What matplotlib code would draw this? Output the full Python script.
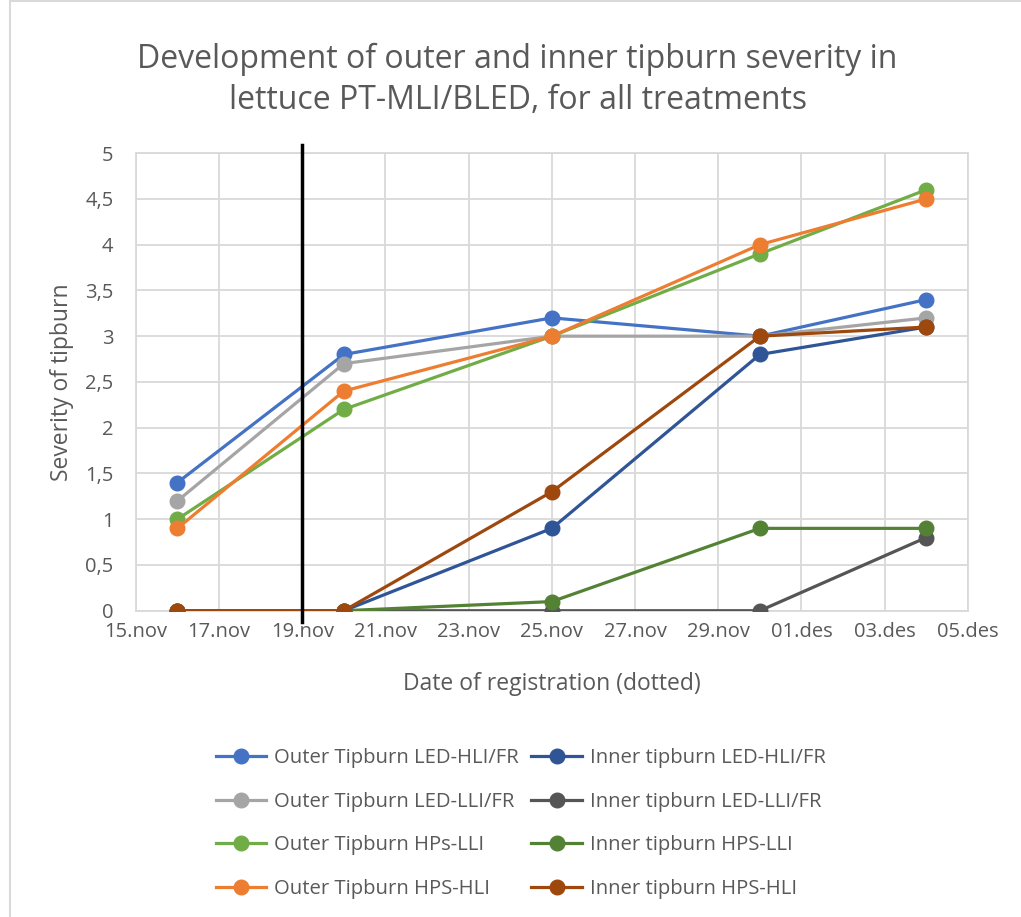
import datetime as dt
import matplotlib
matplotlib.use('Agg')
import matplotlib.pyplot as plt
import matplotlib.dates as mdates
from matplotlib.patches import Rectangle

plt.rcParams['font.family'] = ['Open Sans', 'DejaVu Sans']

# ─── Data ─────────────────────────────────────────────────────────────────────
dates = [dt.date(2023, 11, 16), dt.date(2023, 11, 20), dt.date(2023, 11, 25),
         dt.date(2023, 11, 30), dt.date(2023, 12, 4)]

outer_led_hli = [1.4, 2.8, 3.2, 3.0, 3.4]
outer_led_lli = [1.2, 2.7, 3.0, 3.0, 3.2]
outer_hps_lli = [1.0, 2.2, 3.0, 3.9, 4.6]
outer_hps_hli = [0.9, 2.4, 3.0, 4.0, 4.5]
inner_led_hli = [0, 0, 0.9, 2.8, 3.1]
inner_led_lli = [0, 0, 0, 0, 0.8]
inner_hps_lli = [0, 0, 0.1, 0.9, 0.9]
inner_hps_hli = [0, 0, 1.3, 3.0, 3.1]

series = [
    ('Outer Tipburn LED-HLI/FR', outer_led_hli, '#4472C4'),
    ('Outer Tipburn LED-LLI/FR', outer_led_lli, '#A5A5A5'),
    ('Outer Tipburn HPs-LLI',    outer_hps_lli, '#70AD47'),
    ('Outer Tipburn HPS-HLI',    outer_hps_hli, '#ED7D31'),
    ('Inner tipburn LED-HLI/FR', inner_led_hli, '#2F5597'),
    ('Inner tipburn LED-LLI/FR', inner_led_lli, '#555555'),
    ('Inner tipburn HPS-LLI',    inner_hps_lli, '#548235'),
    ('Inner tipburn HPS-HLI',    inner_hps_hli, '#9E480E'),
]

marker_date = dt.date(2023, 11, 19)
months = {11: 'nov', 12: 'des'}
TXT = '#595959'

# ─── Plot ─────────────────────────────────────────────────────────────────────
fig = plt.figure(figsize=(10.21, 9.17), dpi=100, facecolor='white')
# chart frame (cut off at the right and bottom edges, as in the screenshot)
fig.patches.append(Rectangle((0.0098, -0.1), 1.2, 1.099, transform=fig.transFigure,
                             fill=False, edgecolor='#D9D9D9', linewidth=1.5))
ax = fig.add_axes([0.133, 0.334, 0.815, 0.499])

for label, vals, col in series:
    ax.plot(dates, vals, color=col, linewidth=2.3, marker='o', markersize=10.5,
            label=label, zorder=3)

ax.plot([marker_date, marker_date], [-0.12, 5.09], color='black', linewidth=2.5,
        clip_on=False, zorder=4)

ax.set_xlim(dt.date(2023, 11, 15), dt.date(2023, 12, 5))
ax.set_ylim(0, 5)
ax.xaxis.set_major_locator(mdates.DayLocator(bymonthday=[1, 3, 5, 15, 17, 19, 21, 23, 25, 27, 29]))
ax.xaxis.set_major_formatter(plt.FuncFormatter(
    lambda x, pos: '%02d.%s' % (mdates.num2date(x).day, months[mdates.num2date(x).month])))
ax.set_yticks([0, 0.5, 1, 1.5, 2, 2.5, 3, 3.5, 4, 4.5, 5])
ax.set_yticklabels(['0', '0,5', '1', '1,5', '2', '2,5', '3', '3,5', '4', '4,5', '5'])

ax.grid(True, color='#D9D9D9', linewidth=1.3, zorder=0)
ax.tick_params(length=0, labelsize=14.5, colors=TXT)
ax.tick_params(axis='y', pad=16)
ax.tick_params(axis='x', pad=8)
for spine in ax.spines.values():
    spine.set_color('#D9D9D9')
    spine.set_linewidth(1.3)

ax.set_xlabel('Date of registration (dotted)', fontsize=16.5, color=TXT, labelpad=22)
ax.set_ylabel('Severity of tipburn', fontsize=16.5, color=TXT, labelpad=8)
fig.text(0.507, 0.913, 'Development of outer and inner tipburn severity in\n'
         'lettuce PT-MLI/BLED, for all treatments',
         ha='center', va='center', fontsize=23, color=TXT, linespacing=1.3)

fig.legend(loc='center', bbox_to_anchor=(0.51, 0.102), ncol=2, frameon=False,
           fontsize=14.6, labelcolor=TXT, labelspacing=1.16, columnspacing=0.6,
           handlelength=2.5, handletextpad=0.4)

plt.savefig('out.png', dpi=100, facecolor='white')
